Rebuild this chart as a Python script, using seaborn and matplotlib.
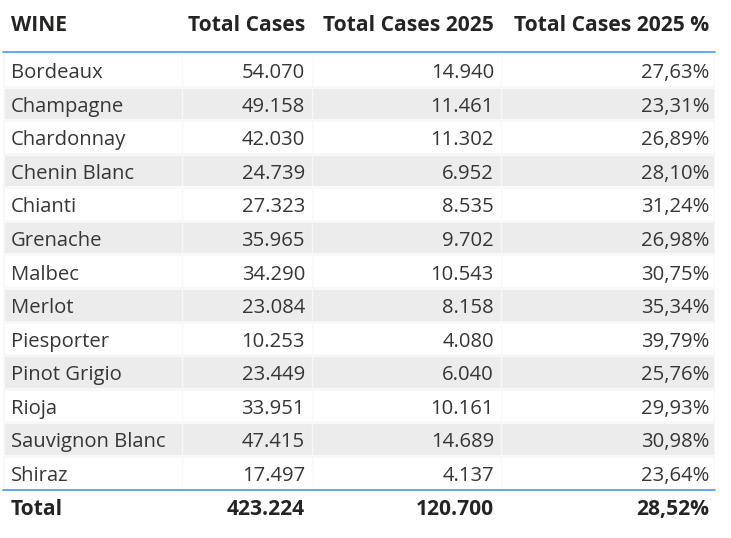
import numpy as np
import pandas as pd
import matplotlib
matplotlib.use("Agg")
import matplotlib.pyplot as plt
from matplotlib.colors import ListedColormap
import seaborn as sns

wines = ["Bordeaux", "Champagne", "Chardonnay", "Chenin Blanc", "Chianti", "Grenache",
         "Malbec", "Merlot", "Piesporter", "Pinot Grigio", "Rioja", "Sauvignon Blanc", "Shiraz"]
total_cases = [54070, 49158, 42030, 24739, 27323, 35965, 34290, 23084, 10253, 23449, 33951, 47415, 17497]
cases_2025 = [14940, 11461, 11302, 6952, 8535, 9702, 10543, 8158, 4080, 6040, 10161, 14689, 4137]
pct_2025 = [27.63, 23.31, 26.89, 28.10, 31.24, 26.98, 30.75, 35.34, 39.79, 25.76, 29.93, 30.98, 23.64]
headers = ["WINE", "Total Cases", "Total Cases 2025", "Total Cases 2025 %"]

sns.set_theme(style="white")
plt.rcParams['font.family'] = ['Open Sans', 'DejaVu Sans']

W, H = 731, 538
fig = plt.figure(figsize=(W / 100, H / 100), dpi=100)
fig.patch.set_facecolor("white")

# body geometry (pixels)
left, right = 3, 715
top, bottom = 53, 489.5
n = len(wines)
rh = (bottom - top) / n
col_edges = [left, 181.5, 312, 501, right]

# striped background via seaborn heatmap
stripe = pd.DataFrame({"band": [i % 2 for i in range(n)]}, index=wines)
ax_bg = fig.add_axes([left / W, 1 - bottom / H, (right - left) / W, (bottom - top) / H])
sns.heatmap(stripe, ax=ax_bg, cmap=ListedColormap(["white", "#ececec"]), vmin=0, vmax=1,
            cbar=False, xticklabels=False, yticklabels=False,
            linewidths=0.8, linecolor="#f8f8f8")
ax_bg.set_xlabel("")
ax_bg.set_ylabel("")

# overlay axes in pixel coordinates
ax = fig.add_axes([0, 0, 1, 1])
ax.set_xlim(0, W)
ax.set_ylim(H, 0)
ax.axis("off")
ax.patch.set_alpha(0)

for xe in col_edges[1:-1]:
    ax.plot([xe, xe], [top, bottom], color="#f8f8f8", lw=1.0, zorder=1)

fs = 14.6
hfs = 15.1
hdr_color = "#252423"
body_color = "#363636"
right_x = [305, 494, 709]

# header
hy = 31
ax.text(11, hy, headers[0], fontsize=hfs, fontweight="bold", color=hdr_color, va="baseline", ha="left")
for xr, h in zip(right_x, headers[1:]):
    ax.text(xr, hy, h, fontsize=hfs, fontweight="bold", color=hdr_color, va="baseline", ha="right")

ax.plot([left, right], [52.3, 52.3], color="#5b9ef0", lw=1.3, zorder=3)
ax.plot([left, right], [489.8, 489.8], color="#5b9ef0", lw=1.3, zorder=3)

def fmt_int(v):
    return f"{v:,}".replace(",", ".")

def fmt_pct(v):
    return f"{v:.2f}%".replace(".", ",")

for i, w in enumerate(wines):
    y = top + i * rh + rh / 2 + 8.3
    ax.text(11, y, w, fontsize=fs, color=body_color, va="baseline", ha="left")
    ax.text(right_x[0], y, fmt_int(total_cases[i]), fontsize=fs, color=body_color, va="baseline", ha="right")
    ax.text(right_x[1], y, fmt_int(cases_2025[i]), fontsize=fs, color=body_color, va="baseline", ha="right")
    ax.text(right_x[2], y, fmt_pct(pct_2025[i]), fontsize=fs, color=body_color, va="baseline", ha="right")

tot_cases = sum(total_cases)
tot_2025 = sum(cases_2025)
tot_pct = 100 * tot_2025 / tot_cases
ty = 515
ax.text(11, ty, "Total", fontsize=hfs, fontweight="bold", color=hdr_color, va="baseline", ha="left")
ax.text(right_x[0], ty, fmt_int(tot_cases), fontsize=hfs, fontweight="bold", color=hdr_color, va="baseline", ha="right")
ax.text(right_x[1], ty, fmt_int(tot_2025), fontsize=hfs, fontweight="bold", color=hdr_color, va="baseline", ha="right")
ax.text(right_x[2], ty, fmt_pct(tot_pct), fontsize=hfs, fontweight="bold", color=hdr_color, va="baseline", ha="right")

fig.savefig("out.png", dpi=100, facecolor="white")
